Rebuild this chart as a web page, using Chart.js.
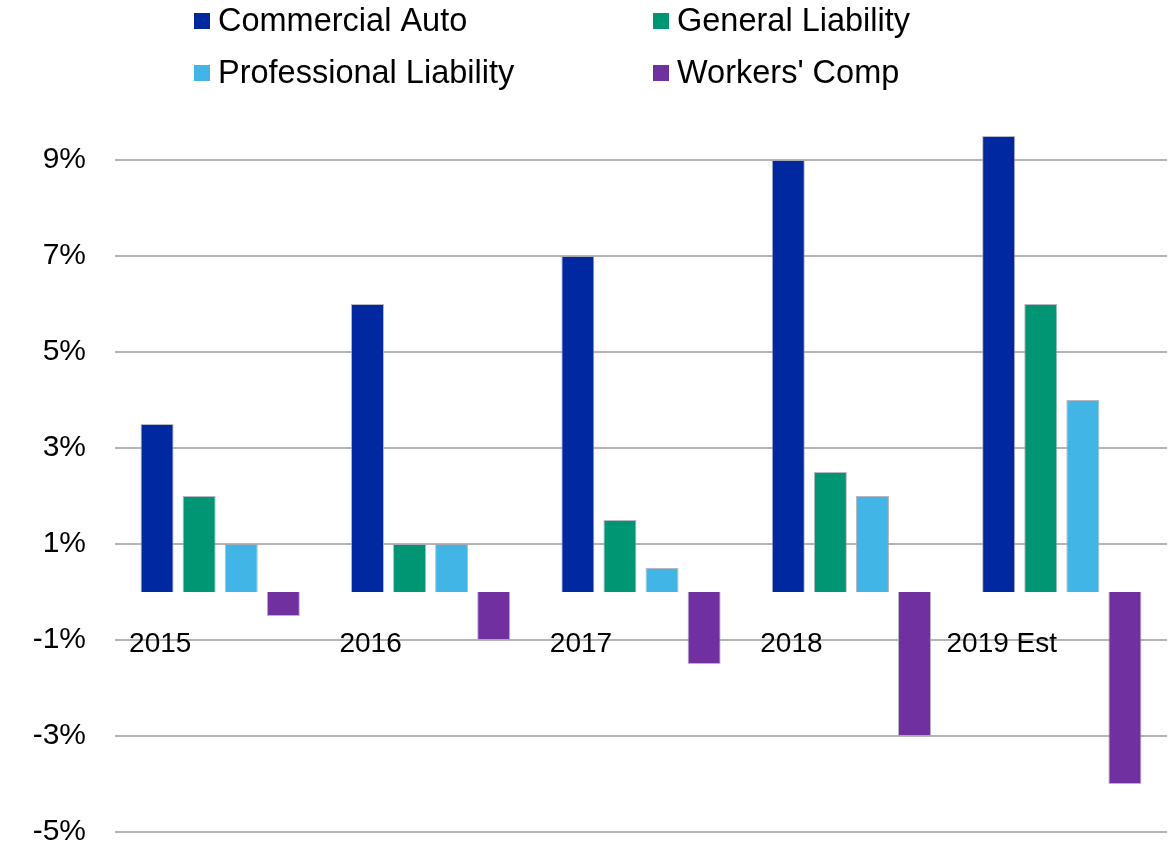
<!DOCTYPE html>
<html>
<head>
<meta charset="utf-8">
<script src="https://cdn.jsdelivr.net/npm/chart.js@4/dist/chart.umd.min.js"></script>
<style>
  body { margin: 0; background: #fff; }
  canvas { display: block; }
</style>
</head>
<body>
<canvas id="rates" width="1171" height="843"></canvas>
<script>
const years = ['2015', '2016', '2017', '2018', '2019 Est'];
const commercialAuto = [3.5, 6, 7, 9, 9.5];
const generalLiability = [2, 1, 1.5, 2.5, 6];
const professionalLiability = [1, 1, 0.5, 2, 4];
const workersComp = [-0.5, -1, -1.5, -3, -4];
const yTicks = [-5, -3, -1, 1, 3, 5, 7, 9];

const FONT = '"Liberation Sans", Arial, sans-serif';

// two-column legend above the plot
const gridLegend = {
  id: 'gridLegend',
  afterDraw(chart) {
    const ctx = chart.ctx;
    ctx.save();
    ctx.font = '32.5px ' + FONT;
    ctx.textBaseline = 'middle';
    chart.data.datasets.forEach((ds, i) => {
      const x = 194 + (i % 2) * 459;
      const y = 21 + Math.floor(i / 2) * 52;
      ctx.fillStyle = ds.backgroundColor;
      ctx.fillRect(x, y - 8, 16, 16);
      ctx.fillStyle = '#000';
      ctx.fillText(ds.label, x + 24, y + 1);
    });
    ctx.restore();
  }
};

// category names sit just under the zero line, left of each group
const yearLabels = {
  id: 'yearLabels',
  afterDatasetsDraw(chart) {
    const { ctx, scales: { x, y } } = chart;
    ctx.save();
    ctx.font = '28px ' + FONT;
    ctx.textAlign = 'center';
    ctx.textBaseline = 'middle';
    ctx.fillStyle = '#000';
    chart.data.labels.forEach((label, i) => {
      ctx.fillText(label, x.getPixelForValue(i) - 60, y.getPixelForValue(0) + 52);
    });
    ctx.restore();
  }
};

function bar(label, data, color) {
  return {
    label: label,
    data: data,
    backgroundColor: color,
    borderColor: 'rgba(165,165,175,0.8)',
    borderWidth: 1,
    categoryPercentage: 0.8,
    barPercentage: 0.785
  };
}

new Chart(document.getElementById('rates'), {
  type: 'bar',
  data: {
    labels: years,
    datasets: [
      bar('Commercial Auto', commercialAuto, '#0028a0'),
      bar('General Liability', generalLiability, '#009673'),
      bar('Professional Liability', professionalLiability, '#41b6e6'),
      bar("Workers' Comp", workersComp, '#7030a0')
    ]
  },
  options: {
    responsive: false,
    animation: false,
    layout: { padding: { top: 112, right: 4, bottom: 11, left: 0 } },
    plugins: {
      legend: { display: false },
      tooltip: { enabled: false }
    },
    scales: {
      x: { display: false },
      y: {
        min: -5,
        max: 10,
        afterBuildTicks: scale => { scale.ticks = yTicks.map(v => ({ value: v })); },
        afterFit: scale => { scale.width = 115; },
        border: { display: false },
        grid: { color: '#b4b4b4', lineWidth: 2, tickLength: 29, tickColor: 'rgba(0,0,0,0)' },
        ticks: {
          color: '#000',
          padding: 0,
          font: { family: FONT, size: 30, lineHeight: 0.7 },
          callback: v => v + '%'
        }
      }
    }
  },
  plugins: [gridLegend, yearLabels]
});
</script>
</body>
</html>
